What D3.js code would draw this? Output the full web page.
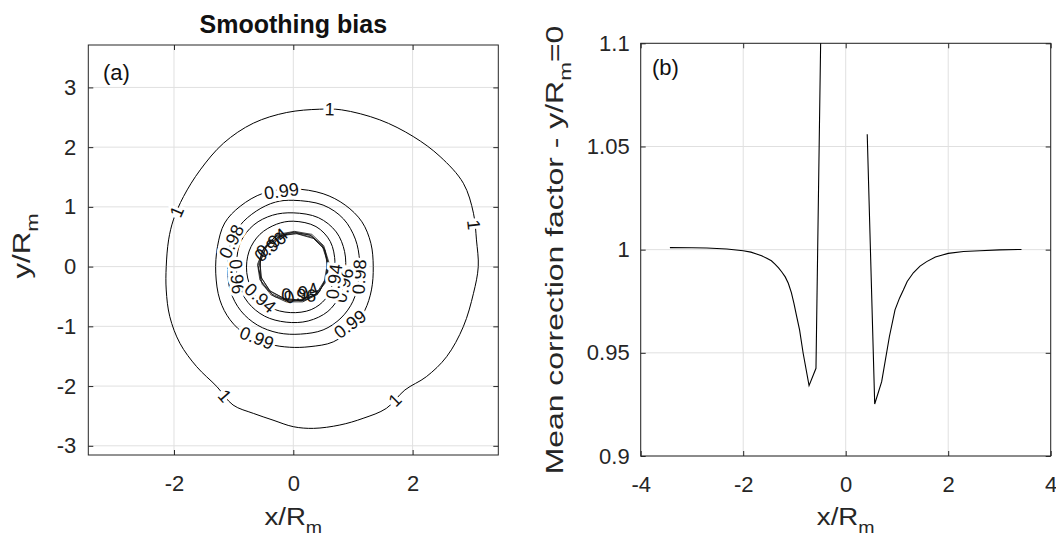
<!DOCTYPE html>
<html>
<head>
<meta charset="utf-8">
<script src="https://cdn.jsdelivr.net/npm/d3@7"></script>
<style>
  body { margin: 0; background: #fff; }
  text { font-family: "Liberation Sans", Arial, Helvetica, sans-serif; fill: #262626; }
</style>
</head>
<body>
<svg id="chart" width="1056" height="540"></svg>
<script>
"use strict";

// ---- data ----
var xTicksA = [-2, 0, 2];
var yTicksA = [-3, -2, -1, 0, 1, 2, 3];
var xTicksB = [-4, -2, 0, 2, 4];
var yTicksB = [0.9, 0.95, 1, 1.05, 1.1];

// contour lines of panel (a), [x/Rm, y/Rm]
var ring100 = [[0.44,2.635],[0.81,2.624],[1.45,2.457],[2.01,2.178],[2.46,1.843],[2.85,1.396],[3.02,0.893],[3.07,0.447],[3.10,0],
  [3.02,-0.447],[2.85,-1.005],[2.57,-1.508],[2.23,-1.843],[1.87,-2.066],[1.56,-2.373],[1.17,-2.54],[0.78,-2.652],[0.34,-2.708],
  [0,-2.68],[-0.34,-2.57],[-0.67,-2.457],[-1.01,-2.317],[-1.28,-2.01],[-1.62,-1.675],[-1.90,-1.284],[-2.07,-0.838],[-2.13,-0.391],
  [-2.13,0],[-2.09,0.447],[-2.01,0.782],[-1.84,1.173],[-1.56,1.619],[-1.17,2.066],[-0.67,2.401],[-0.11,2.58]];
var ring099 = [[0,1.30],[0.50,1.22],[0.87,1.03],[1.15,0.75],[1.30,0.39],[1.34,0],[1.31,-0.39],[1.20,-0.73],[1.01,-1.01],
  [0.67,-1.26],[0.28,-1.34],[-0.06,-1.35],[-0.39,-1.30],[-0.78,-1.15],[-1.06,-0.89],[-1.23,-0.56],[-1.30,-0.11],[-1.27,0.34],
  [-1.15,0.73],[-0.89,1.01],[-0.50,1.23]];
var ring098 = [[0,1.11],[0.50,1.03],[0.84,0.80],[1.04,0.46],[1.11,0.10],[1.09,-0.25],[1.00,-0.58],[0.80,-0.86],[0.50,-1.06],
  [0.12,-1.13],[-0.25,-1.11],[-0.60,-0.98],[-0.88,-0.74],[-1.05,-0.42],[-1.10,-0.05],[-1.06,0.35],[-0.90,0.68],[-0.62,0.93],[-0.30,1.08]];
var ring096 = [[0,0.90],[0.42,0.82],[0.72,0.58],[0.86,0.25],[0.87,-0.12],[0.78,-0.48],[0.58,-0.75],[0.25,-0.91],[-0.12,-0.93],
  [-0.48,-0.83],[-0.76,-0.60],[-0.92,-0.28],[-0.95,0.08],[-0.88,0.42],[-0.66,0.70],[-0.35,0.86]];
var ring094 = [[0,0.76],[0.38,0.67],[0.62,0.42],[0.70,0.06],[0.66,-0.28],[0.54,-0.54],[0.30,-0.72],[-0.05,-0.77],[-0.40,-0.68],
  [-0.66,-0.45],[-0.78,-0.10],[-0.74,0.26],[-0.56,0.54],[-0.28,0.71]];
// tight bundle of contours at the edge of the inner region
var innerRings = [
  [[0.02,0.58],[0.30,0.52],[0.50,0.34],[0.58,0.08],[0.55,-0.20],[0.42,-0.44],[0.18,-0.57],[-0.10,-0.57],[-0.36,-0.46],[-0.54,-0.24],[-0.59,0.02],[-0.50,0.30],[-0.28,0.52]],
  [[0.04,0.56],[0.32,0.49],[0.52,0.30],[0.57,0.04],[0.52,-0.24],[0.38,-0.46],[0.14,-0.56],[-0.12,-0.55],[-0.38,-0.42],[-0.53,-0.20],[-0.56,0.06],[-0.46,0.32],[-0.24,0.51]],
  [[0.00,0.57],[0.28,0.53],[0.48,0.36],[0.56,0.12],[0.56,-0.16],[0.44,-0.42],[0.22,-0.55],[-0.06,-0.58],[-0.32,-0.50],[-0.52,-0.30],[-0.58,-0.04],[-0.52,0.26],[-0.30,0.50]],
  [[0.06,0.55],[0.34,0.47],[0.53,0.28],[0.59,0.00],[0.53,-0.28],[0.36,-0.48],[0.10,-0.56],[-0.16,-0.53],[-0.40,-0.40],[-0.55,-0.16],[-0.55,0.10],[-0.44,0.36],[-0.20,0.52]],
  [[0.02,0.59],[0.31,0.54],[0.51,0.35],[0.60,0.06],[0.56,-0.22],[0.40,-0.47],[0.16,-0.59],[-0.12,-0.59],[-0.38,-0.47],[-0.56,-0.22],[-0.60,0.04],[-0.48,0.33],[-0.26,0.54]]
];

// contour labels: text, ring it sits on, data position
var labelText = ["1","1","1","1","1","0.99","0.99","0.99","0.98","0.98","0.96","0.96","0.94","0.94","0.96","0.94","0.96","0.94"];
var labelRing = ["r100","r100","r100","r100","r100","r099","r099","r099","r098","r098","r096","r096","r094","r094","in","in","in","in"];
var labelX = [0.61, 3.03, 1.70, -1.145, -1.955, -0.20, -0.61, 0.95, -1.04, 1.10, -0.94, 0.84, -0.55, 0.68, -0.39, -0.36, 0.09, 0.13];
var labelY = [2.64, 0.70, -2.23, -2.16, 0.92, 1.27, -1.19, -0.96, 0.42, -0.17, -0.17, -0.31, -0.52, -0.25, 0.335, 0.40, -0.47, -0.44];

// panel (b): mean correction factor along y/Rm = 0 (null = no value)
var corrX = [-3.43,-3.0,-2.71,-2.32,-2.0,-1.85,-1.74,-1.64,-1.54,-1.45,-1.38,-1.31,-1.25,-1.18,-1.12,-1.06,-1.01,-0.96,-0.90,-0.83,-0.715,-0.58,-0.44,
  0, 0.42,0.566,0.702,0.852,0.962,1.05,1.125,1.2,1.32,1.45,1.58,1.75,2.0,2.3,2.62,3.0,3.43];
var corrY = [1.0010,1.0009,1.0008,1.0003,0.9995,0.9988,0.9979,0.9970,0.9958,0.9946,0.9930,0.9912,0.9893,0.9868,0.9837,0.9792,0.9740,0.9680,0.9611,0.9498,0.9341,0.9425,1.185,
  null, 1.0559,0.9252,0.936,0.9578,0.9708,0.9765,0.9804,0.9846,0.9888,0.9920,0.9942,0.9964,0.9982,0.9991,0.9995,0.9999,1.0001];

// ---- layout ----
var svg = d3.select("#chart");
var axisColor = "#262626";
var gridColor = "#e0e0e0";

var xA = d3.scaleLinear().domain([-3.436, 3.436]).range([88.3, 498.3]);
var yA = d3.scaleLinear().domain([-3.154, 3.71]).range([455, 45]);
var xB = d3.scaleLinear().domain([-4, 4]).range([640.7, 1050.7]);
var yB = d3.scaleLinear().domain([0.9, 1.1]).range([456, 43.3]);

function fmtTick(d) { return String(+d.toFixed(2)); }

// grid, box, ticks and tick labels for one panel
function drawFrame(x, y, xt, yt, padY) {
  var x0 = x.range()[0], x1 = x.range()[1], y0 = y.range()[1], y1 = y.range()[0];
  var g = svg.append("g");
  g.selectAll(".gx").data(xt).enter().append("line")
    .attr("x1", d => x(d)).attr("x2", d => x(d)).attr("y1", y0).attr("y2", y1)
    .attr("stroke", gridColor).attr("stroke-width", 1);
  g.selectAll(".gy").data(yt).enter().append("line")
    .attr("x1", x0).attr("x2", x1).attr("y1", d => y(d)).attr("y2", d => y(d))
    .attr("stroke", gridColor).attr("stroke-width", 1);

  var ax = [
    g.append("g").attr("transform", `translate(0,${y1})`).call(d3.axisBottom(x).tickValues(xt).tickFormat(fmtTick).tickSizeInner(-5).tickSizeOuter(0).tickPadding(20)),
    g.append("g").attr("transform", `translate(0,${y0})`).call(d3.axisTop(x).tickValues(xt).tickFormat("").tickSizeInner(-5).tickSizeOuter(0)),
    g.append("g").attr("transform", `translate(${x0},0)`).call(d3.axisLeft(y).tickValues(yt).tickFormat(fmtTick).tickSizeInner(-5).tickSizeOuter(0).tickPadding(padY)),
    g.append("g").attr("transform", `translate(${x1},0)`).call(d3.axisRight(y).tickValues(yt).tickFormat("").tickSizeInner(-5).tickSizeOuter(0))
  ];
  ax.forEach(function (a) {
    a.select(".domain").remove();
    a.selectAll("line").attr("stroke", axisColor);
    a.selectAll("text").attr("fill", axisColor).style("font-size", "22px")
      .style("font-family", '"Liberation Sans", Arial, sans-serif');
  });
  g.append("rect").attr("x", x0).attr("y", y0).attr("width", x1 - x0).attr("height", y1 - y0)
    .attr("fill", "none").attr("stroke", axisColor).attr("stroke-width", 1);
  return g;
}

function clipFor(id, x, y) {
  svg.append("clipPath").attr("id", id).append("rect")
    .attr("x", x.range()[0]).attr("y", y.range()[1])
    .attr("width", x.range()[1] - x.range()[0]).attr("height", y.range()[0] - y.range()[1]);
}

// ---- panel (a) ----
drawFrame(xA, yA, xTicksA, yTicksA, 12);
clipFor("clipA", xA, yA);

var rings = { r100: [ring100], r099: [ring099], r098: [ring098], r096: [ring096], r094: [ring094], in: innerRings };
var smoothLine = d3.line().x(d => xA(d[0])).y(d => yA(d[1])).curve(d3.curveCatmullRomClosed.alpha(0.5));
var polyLine = d3.line().x(d => xA(d[0])).y(d => yA(d[1])).curve(d3.curveLinearClosed);

var contG = svg.append("g").attr("clip-path", "url(#clipA)");
[ring100, ring099, ring098, ring096, ring094].forEach(function (r) {
  contG.append("path").attr("d", smoothLine(r)).attr("fill", "none").attr("stroke", "#000").attr("stroke-width", 1);
});
innerRings.forEach(function (r) {
  contG.append("path").attr("d", polyLine(r)).attr("fill", "none").attr("stroke", "#111").attr("stroke-width", 0.8);
});

// label angle follows the contour nearest to the label
function labelAngle(ringList, lx, ly) {
  var px = xA(lx), py = yA(ly), best = 0, bestD = Infinity;
  ringList.forEach(function (pts) {
    for (var i = 0; i < pts.length; i++) {
      var a = pts[i], b = pts[(i + 1) % pts.length];
      var ax = xA(a[0]), ay = yA(a[1]), bx = xA(b[0]), by = yA(b[1]);
      var dx = bx - ax, dy = by - ay, L = dx * dx + dy * dy;
      var t = Math.max(0, Math.min(1, ((px - ax) * dx + (py - ay) * dy) / L));
      var qx = ax + t * dx - px, qy = ay + t * dy - py, dd = qx * qx + qy * qy;
      if (dd < bestD) { bestD = dd; best = Math.atan2(dy, dx) * 180 / Math.PI; }
    }
  });
  while (best > 90) best -= 180;
  while (best <= -90) best += 180;
  return best;
}

var labG = svg.append("g").attr("clip-path", "url(#clipA)");
labelText.forEach(function (t, i) {
  var inner = labelRing[i] === "in";
  labG.append("text")
    .attr("transform", `translate(${xA(labelX[i])},${yA(labelY[i])}) rotate(${labelAngle(rings[labelRing[i]], labelX[i], labelY[i])})`)
    .attr("text-anchor", "middle")
    .attr("dy", "0.36em")
    .style("font-size", "18px")
    .style("fill", "#111")
    .style("stroke", inner ? "none" : "#fff")
    .style("stroke-width", 6)
    .style("paint-order", "stroke")
    .text(t);
});

svg.append("text").attr("x", 103).attr("y", 80).style("font-size", "22px").style("fill", "#111").text("(a)");
svg.append("text").attr("x", (xA.range()[0] + xA.range()[1]) / 2).attr("y", 33)
  .attr("text-anchor", "middle").style("font-size", "25px").style("font-weight", "bold").style("fill", "#111")
  .text("Smoothing bias");

// ---- panel (b) ----
drawFrame(xB, yB, xTicksB, yTicksB, 11);
clipFor("clipB", xB, yB);

var corr = corrX.map((x, i) => ({ x: x, y: corrY[i] }));
svg.append("path")
  .datum(corr)
  .attr("clip-path", "url(#clipB)")
  .attr("fill", "none")
  .attr("stroke", "#000")
  .attr("stroke-width", 1.1)
  .attr("d", d3.line().defined(d => d.y !== null).x(d => xB(d.x)).y(d => yB(d.y)));

svg.append("text").attr("x", 652).attr("y", 75).style("font-size", "22px").style("fill", "#111").text("(b)");

// ---- axis labels ----
function axisLabel(tx, ty, rot, stretch, main, sub, tail) {
  var t = svg.append("text")
    .attr("transform", `translate(${tx},${ty}) rotate(${rot}) scale(${stretch},1)`)
    .attr("text-anchor", "middle")
    .style("font-size", "24px");
  t.append("tspan").text(main);
  t.append("tspan").attr("dy", 8).style("font-size", "17px").text(sub);
  if (tail) t.append("tspan").attr("dy", -8).text(tail);
}
axisLabel((xA.range()[0] + xA.range()[1]) / 2, 525, 0, 1.15, "x/R", "m");
axisLabel((xB.range()[0] + xB.range()[1]) / 2, 525, 0, 1.15, "x/R", "m");
axisLabel(30, 246, -90, 1.3, "y/R", "m");
axisLabel(563, 250, -90, 1.33, "Mean correction factor - y/R", "m", "=0");
</script>
</body>
</html>
